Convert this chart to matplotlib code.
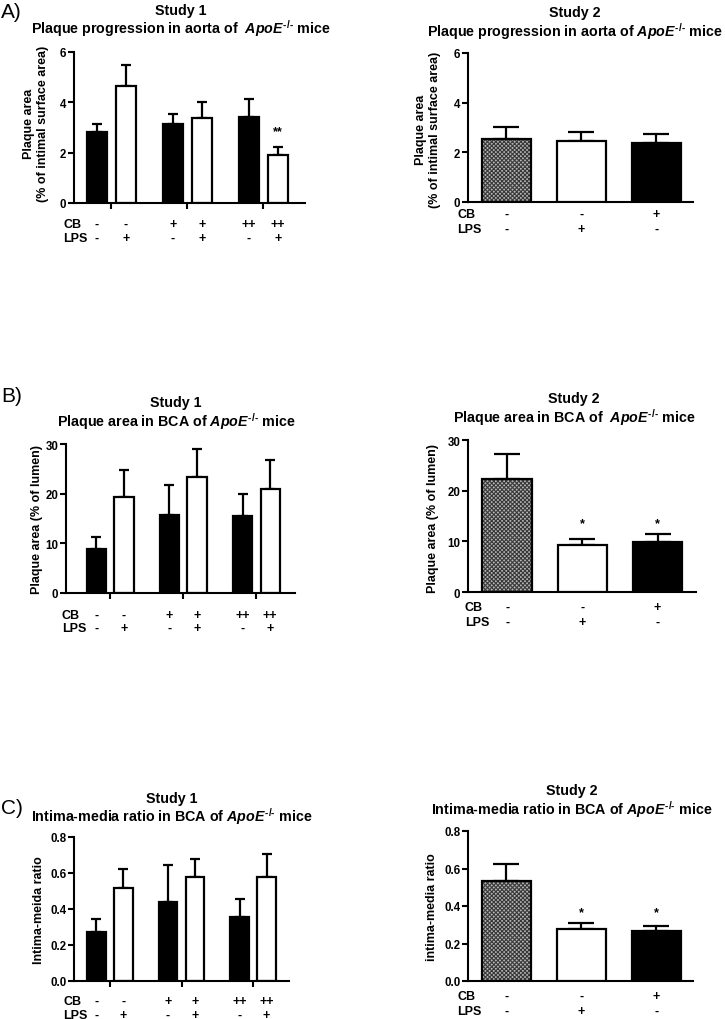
import matplotlib
matplotlib.use('Agg')
import matplotlib.pyplot as plt
import matplotlib.transforms as mtransforms

plt.rcParams['font.family'] = ['Liberation Sans', 'DejaVu Sans']
plt.rcParams['font.weight'] = 'bold'
plt.rcParams['mathtext.fontset'] = 'custom'
plt.rcParams['mathtext.rm'] = 'Liberation Sans:bold'
plt.rcParams['mathtext.it'] = 'Liberation Sans:italic:bold'
plt.rcParams['mathtext.bf'] = 'Liberation Sans:bold'
plt.rcParams['hatch.linewidth'] = 0.8

W, H = 725, 1020

# Study 1 groups: CB (-, +, ++) x LPS (-, +)
cb1 = ['-', '-', '+', '+', '++', '++']
lps1 = ['-', '+', '-', '+', '-', '+']
# Study 2
cb2 = ['-', '-', '+']
lps2 = ['-', '+', '-']

# A) plaque progression in aorta (% of intimal surface area)
a1_mean = [2.83, 4.65, 3.12, 3.37, 3.40, 1.90]
a1_sem = [0.30, 0.83, 0.40, 0.66, 0.75, 0.33]
a2_mean = [2.54, 2.46, 2.38]
a2_sem = [0.50, 0.35, 0.37]

# B) plaque area in BCA (% of lumen)
b1_mean = [8.95, 19.4, 15.7, 23.4, 15.6, 20.9]
b1_sem = [2.35, 5.4, 6.1, 5.5, 4.3, 5.9]
b2_mean = [22.4, 9.2, 9.8]
b2_sem = [4.8, 1.3, 1.6]

# C) intima-media ratio in BCA
c1_mean = [0.270, 0.517, 0.441, 0.580, 0.353, 0.577]
c1_sem = [0.074, 0.106, 0.205, 0.099, 0.103, 0.130]
c2_mean = [0.533, 0.276, 0.267]
c2_sem = [0.093, 0.032, 0.026]

x1 = [0, 1, 2.65, 3.65, 5.3, 6.3]
x1_groups = [0.5, 3.15, 5.8]
x2 = [0, 1, 2]

FS_T = 10.3   # titles
FS_L = 9      # y labels / CB LPS rows
FS_K = 8.3    # tick labels


def fx(px):
    return px / W


def fy(py):
    return 1 - py / H


fig = plt.figure(figsize=(7.25, 10.2), dpi=100)


def finish(ax):
    for side in ['top', 'right']:
        ax.spines[side].set_visible(False)
    for side in ['left', 'bottom']:
        ax.spines[side].set_linewidth(1.5)
    ax.tick_params(axis='y', length=4, width=1.5, labelsize=FS_K, pad=1.5)
    for t in ax.get_yticklabels():
        t.set_fontweight('bold')


def rows(ax, xs, cb, lps, rows_y, lab_x):
    tr = mtransforms.blended_transform_factory(ax.transData, fig.transFigure)
    fig.text(fx(lab_x), fy(rows_y[0]), 'CB', ha='left', va='center', fontsize=FS_L)
    fig.text(fx(lab_x), fy(rows_y[1]), 'LPS', ha='left', va='center', fontsize=FS_L)
    for x, c, l in zip(xs, cb, lps):
        ax.text(x, fy(rows_y[0]), c, ha='center', va='center', fontsize=FS_L,
                transform=tr, clip_on=False)
        ax.text(x, fy(rows_y[1]), l, ha='center', va='center', fontsize=FS_L,
                transform=tr, clip_on=False)


def titles(title, title_xy):
    cx, y1, y2 = title_xy
    fig.text(fx(cx), fy(y1), title[0], ha='center', va='center', fontsize=FS_T)
    fig.text(fx(cx), fy(y2), title[1], ha='center', va='center', fontsize=FS_T)


def extras(ax, xs, ylab, ylab_xy, title, title_xy, stars):
    fig.text(fx(ylab_xy[0]), fy(ylab_xy[1]), ylab, rotation=90, ha='center',
             va='center', multialignment='center', fontsize=FS_L)
    titles(title, title_xy)
    if stars:
        s, xi, py = stars
        tr = mtransforms.blended_transform_factory(ax.transData, fig.transFigure)
        for i in xi:
            ax.text(xs[i], fy(py), s, ha='center', va='center', fontsize=FS_L,
                    transform=tr)


def study1(rect, mean, sem, ymax, yticks, xlim, ylab, ylab_xy, rows_y, lab_x,
           title, title_xy, stars=None):
    ax = fig.add_axes(rect)
    colors = ['black', 'white'] * 3
    ax.errorbar(x1, mean, yerr=[[0] * 6, sem], fmt='none', ecolor='black',
                elinewidth=1.6, capsize=3.8, capthick=1.6, zorder=1)
    ax.bar(x1, mean, width=0.7, color=colors, edgecolor='black', linewidth=1.6,
           zorder=2)
    ax.set_xlim(xlim)
    ax.set_ylim(0, ymax)
    ax.set_yticks(yticks)
    ax.set_xticks(x1_groups)
    ax.set_xticklabels([])
    finish(ax)
    ax.tick_params(axis='x', length=4, width=1.5)
    rows(ax, x1, cb1, lps1, rows_y, lab_x)
    extras(ax, x1, ylab, ylab_xy, title, title_xy, stars)
    return ax


def study2(rect, mean, sem, ymax, yticks, xlim, ylab, ylab_xy, rows_y, lab_x,
           title, title_xy, stars=None):
    ax = fig.add_axes(rect)
    ax.errorbar(x2, mean, yerr=[[0] * 3, sem], fmt='none', ecolor='black',
                elinewidth=1.6, capsize=9.5, capthick=1.6, zorder=1)
    # fine checkered fill of the control bar
    ax.bar(x2[0], mean[0], width=0.66, color='#b4b4b4', edgecolor='#383838',
           hatch='xxxxxxxx', linewidth=0, zorder=2)
    ax.bar(x2, mean, width=0.66, color=['none', 'white', 'black'],
           edgecolor='black', linewidth=1.6, zorder=3)
    ax.set_xlim(xlim)
    ax.set_ylim(0, ymax)
    ax.set_yticks(yticks)
    ax.set_xticks([])
    finish(ax)
    rows(ax, x2, cb2, lps2, rows_y, lab_x)
    extras(ax, x2, ylab, ylab_xy, title, title_xy, stars)
    return ax


apo = r'$\mathit{ApoE}^{\text{-/-}}$'

# Row A
study1([fx(74), fy(204), fx(305) - fx(74), (204 - 53) / H], a1_mean, a1_sem,
       6, [0, 2, 4, 6], (-0.8, 7.25),
       'Plaque area\n(% of intimal surface area)', (36, 124), (225, 239), 63,
       ('Study 1', 'Plaque progression in aorta of  ' + apo + ' mice'), (181, 11, 29),
       stars=('**', [5], 132))
study2([fx(468), fy(203), fx(693) - fx(468), (203 - 54) / H], a2_mean, a2_sem,
       6, [0, 2, 4, 6], (-0.51, 2.49),
       'Plaque area\n(% of intimal surface area)', (428, 130), (215, 230), 457,
       ('Study 2', 'Plaque progression in aorta of ' + apo + ' mice'), (575, 13, 32))

# Row B
study1([fx(66), fy(594), fx(295) - fx(66), (594 - 445) / H], b1_mean, b1_sem,
       30, [0, 10, 20, 30], (-1.1, 7.2),
       'Plaque area (% of lumen)', (37, 520), (616, 629), 62,
       ('Study 1', 'Plaque area in BCA of ' + apo + ' mice'), (176, 403, 422))
study2([fx(468), fy(593), fx(696) - fx(468), (593 - 441) / H], b2_mean, b2_sem,
       30, [0, 10, 20, 30], (-0.52, 2.51),
       'Plaque area (% of lumen)', (433, 519), (608, 623), 465,
       ('Study 2', 'Plaque area in BCA of  ' + apo + ' mice'), (574, 399, 418),
       stars=('*', [1, 2], 524))

# Row C
study1([fx(74), fy(982), fx(289) - fx(74), (982 - 838) / H], c1_mean, c1_sem,
       0.8, [0.0, 0.2, 0.4, 0.6, 0.8], (-0.83, 7.13),
       'Intima-meida ratio', (39, 910), (1002, 1016), 63,
       ('Study 1', 'Intima-media ratio in BCA of ' + apo + ' mice'), (172, 799, 817))
study2([fx(468), fy(982), fx(693) - fx(468), (982 - 832) / H], c2_mean, c2_sem,
       0.8, [0.0, 0.2, 0.4, 0.6, 0.8], (-0.51, 2.49),
       'intima-media ratio', (432, 907), (997, 1012), 457,
       ('Study 2', 'Intima-media ratio in BCA of ' + apo + ' mice'), (572, 791, 810),
       stars=('*', [1, 2], 913))

for lab, py in [('A)', 13), ('B)', 397), ('C)', 809)]:
    fig.text(fx(1), fy(py), lab, ha='left', va='center', fontsize=15,
             fontweight='normal')

plt.savefig('out.png', dpi=100)
